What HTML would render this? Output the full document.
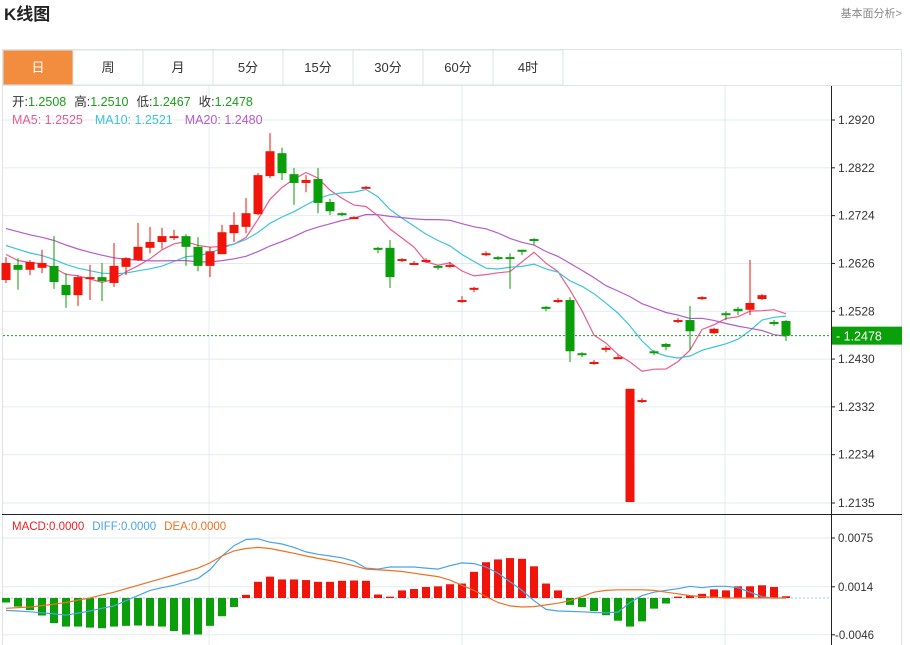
<!DOCTYPE html>
<html><head><meta charset="utf-8">
<style>
body{margin:0;background:#fff;font-family:"Liberation Sans","Noto Sans CJK SC",sans-serif;}
#wrap{position:relative;width:910px;height:645px;overflow:hidden;}
svg text{font-family:"Liberation Sans","Noto Sans CJK SC",sans-serif;}
</style></head>
<body>
<div id="wrap">
<svg id="chart" width="910" height="645" viewBox="0 0 910 645">
  <text x="4" y="20" font-size="17" font-weight="bold" fill="#222">K线图</text>
  <text x="902" y="17" font-size="11" fill="#888" text-anchor="end">基本面分析&gt;</text>
  <rect x="2.5" y="49.5" width="899" height="600" fill="#fff" stroke="#dde3e8"/>
  <g id="tabs"></g>
  <g id="grid"></g>
  <g id="mas"></g>
  <g id="candles"></g>
  <g id="macd"></g>
  <g id="axes"></g>
  <text x="12" y="106" font-size="12.5"><tspan fill="#333">开:</tspan><tspan fill="#17a017">1.2508</tspan><tspan fill="#333" dx="8">高:</tspan><tspan fill="#17a017">1.2510</tspan><tspan fill="#333" dx="8">低:</tspan><tspan fill="#17a017">1.2467</tspan><tspan fill="#333" dx="8">收:</tspan><tspan fill="#17a017">1.2478</tspan></text>
  <text x="12" y="124" font-size="12.5"><tspan fill="#ec5b8d">MA5: 1.2525</tspan><tspan fill="#3cc4da" dx="12">MA10: 1.2521</tspan><tspan fill="#b35ccc" dx="12">MA20: 1.2480</tspan></text>
  <text x="12" y="530" font-size="11.5"><tspan fill="#ee2020">MACD:0.0000</tspan><tspan fill="#4aa3e8" dx="8">DIFF:0.0000</tspan><tspan fill="#f07020" dx="8">DEA:0.0000</tspan></text>
</svg>
</div>
<script>
const tabLabels=["日","周","月","5分","15分","30分","60分","4时"];
const priceTicks=[1.2920,1.2822,1.2724,1.2626,1.2528,1.2430,1.2332,1.2234,1.2135];
const macdTicks=[0.0075,0.0014,-0.0046];
const lastPrice=1.2478;
const priorCloses=[1.2740,1.2755,1.2730,1.2720,1.2745,1.2760,1.2735,1.2710,1.2725,1.2700,1.2690,1.2705,1.2680,1.2670,1.2660,1.2675,1.2650,1.2640,1.2630];
const opens=[1.2592,1.2623,1.2613,1.2617,1.2621,1.2582,1.2561,1.2596,1.2598,1.2586,1.2619,1.2633,1.2658,1.2670,1.2680,1.2682,1.2660,1.2621,1.2645,1.2688,1.2701,1.2727,1.2805,1.2852,1.2809,1.2791,1.2799,1.2752,1.2729,1.2719,1.2781,1.2658,1.2658,1.2633,1.2625,1.2631,1.2621,1.2621,1.2547,1.2574,1.2645,1.2639,1.2639,1.2654,1.2676,1.2537,1.2549,1.2551,1.2442,1.2422,1.2451,1.2432,1.2137,1.2344,1.2446,1.2461,1.2508,1.2510,1.2553,1.2483,1.2524,1.2533,1.2531,1.2553,1.2506,1.2508];
const highs=[1.2639,1.2637,1.2633,1.2654,1.2682,1.2606,1.2602,1.2623,1.2627,1.2668,1.2639,1.2709,1.2701,1.2699,1.2695,1.2686,1.2680,1.2660,1.2705,1.2731,1.2760,1.2811,1.2893,1.2863,1.2822,1.2807,1.2822,1.2758,1.2731,1.2723,1.2785,1.2660,1.2674,1.2637,1.2631,1.2637,1.2623,1.2629,1.2559,1.2578,1.2651,1.2641,1.2647,1.2654,1.2678,1.2539,1.2555,1.2557,1.2444,1.2428,1.2457,1.2438,1.2369,1.2350,1.2448,1.2463,1.2514,1.2539,1.2559,1.2494,1.2528,1.2537,1.2633,1.2563,1.2510,1.2510];
const lows=[1.2586,1.2572,1.2602,1.2606,1.2574,1.2535,1.2539,1.2551,1.2549,1.2578,1.2602,1.2631,1.2647,1.2656,1.2674,1.2621,1.2610,1.2598,1.2645,1.2670,1.2688,1.2725,1.2801,1.2797,1.2746,1.2772,1.2729,1.2725,1.2723,1.2717,1.2779,1.2647,1.2576,1.2629,1.2623,1.2627,1.2613,1.2617,1.2545,1.2567,1.2641,1.2633,1.2574,1.2643,1.2664,1.2528,1.2545,1.2424,1.2434,1.2418,1.2444,1.2430,1.2137,1.2340,1.2438,1.2448,1.2504,1.2448,1.2551,1.2481,1.2510,1.2520,1.2520,1.2551,1.2498,1.2467];
const closes=[1.2627,1.2613,1.2629,1.2627,1.2588,1.2561,1.2598,1.2598,1.2590,1.2621,1.2637,1.2660,1.2670,1.2682,1.2682,1.2660,1.2621,1.2651,1.2690,1.2705,1.2729,1.2807,1.2856,1.2811,1.2791,1.2797,1.2750,1.2733,1.2727,1.2721,1.2783,1.2654,1.2598,1.2635,1.2627,1.2633,1.2619,1.2623,1.2551,1.2576,1.2647,1.2637,1.2635,1.2651,1.2674,1.2535,1.2551,1.2446,1.2440,1.2424,1.2453,1.2434,1.2369,1.2346,1.2444,1.2455,1.2510,1.2487,1.2557,1.2492,1.2520,1.2528,1.2545,1.2561,1.2502,1.2478];
const macdHist=[-0.00056,-0.00108,-0.00151,-0.00219,-0.00314,-0.00357,-0.00357,-0.0037,-0.00378,-0.00357,-0.00348,-0.00344,-0.00348,-0.00357,-0.00413,-0.00456,-0.00456,-0.00348,-0.00228,-0.00112,0.00039,0.00202,0.00267,0.00232,0.00232,0.00224,0.00202,0.00202,0.00215,0.00219,0.00215,0.00043,0.00017,0.00095,0.00112,0.00138,0.00146,0.00172,0.00181,0.00327,0.00447,0.00482,0.00499,0.0049,0.00396,0.00181,0.00095,-0.00086,-0.00112,-0.00163,-0.00215,-0.00284,-0.00357,-0.00292,-0.00133,-0.00069,0.00017,0.0003,0.00052,0.00108,0.00095,0.00146,0.00146,0.00159,0.00138,0.00022];
const diffVals=[-0.00155,-0.00163,-0.00172,-0.00185,-0.00198,-0.00215,-0.00189,-0.00163,-0.00129,-0.00099,-0.00034,0.0003,0.00095,0.00129,0.00159,0.00202,0.00245,0.00353,0.00525,0.00654,0.00731,0.0074,0.00697,0.00675,0.00632,0.00576,0.00546,0.00525,0.00503,0.0046,0.00374,0.00361,0.00387,0.00387,0.00387,0.00374,0.00361,0.00404,0.00439,0.0043,0.00387,0.0031,0.00202,0.00095,-0.00034,-0.00142,-0.00163,-0.00168,-0.00172,-0.00181,-0.00185,-0.00176,-0.00056,0.0003,0.00073,0.00095,0.00116,0.00146,0.00129,0.00146,0.00146,0.00129,0.00073,0.00017,0.0,0.0];
const deaVals=[-0.00129,-0.0012,-0.00112,-0.00095,-0.00077,-0.00056,-0.00026,0.0,0.00039,0.00073,0.00116,0.00159,0.00202,0.00245,0.00288,0.00331,0.00374,0.00439,0.00525,0.00589,0.00619,0.00632,0.00619,0.00589,0.00559,0.00525,0.00495,0.00469,0.00439,0.00404,0.00361,0.00353,0.00344,0.00331,0.0031,0.00288,0.00267,0.00224,0.00159,0.00095,0.00017,-0.00056,-0.00099,-0.00112,-0.00108,-0.00086,-0.00065,-0.00034,0.00017,0.00073,0.00095,0.00103,0.00103,0.00103,0.00095,0.00073,0.00052,0.0003,0.00017,0.00009,0.0,0.0,0.0,0.0,0.0,0.0];

const NS="http://www.w3.org/2000/svg";
function mk(tag,attrs,parent){const e=document.createElementNS(NS,tag);for(const k in attrs)e.setAttribute(k,attrs[k]);parent.appendChild(e);return e;}
const G=id=>document.getElementById(id);
const PTOP=120,PBOT=503,PMAX=1.2920,PMIN=1.2135;
const yP=p=>PTOP+(PMAX-p)/(PMAX-PMIN)*(PBOT-PTOP);
const xC=i=>6+12*i;
const yM=v=>598-v*8000;
const RED="#f0140a",GREEN="#0a9e0a";

tabLabels.forEach((t,i)=>{
  const g=mk('g',{},G('tabs'));
  
  
  mk('rect',{x:3+70*i,y:50,width:70,height:35,fill:i===0?"#f28c3e":"#fff",stroke:"#dde3e8"},g);
  const tx=mk('text',{x:38+70*i,y:72,'font-size':13,fill:i===0?"#fff":"#333",'text-anchor':'middle'},g);
  tx.textContent=t;
});
mk('line',{x1:2,y1:85.5,x2:902,y2:85.5,stroke:"#dde3e8"},G('tabs'));

priceTicks.forEach(p=>{const l=mk('line',{x1:3,x2:831,y1:yP(p),y2:yP(p),stroke:"#e2ebf2"},G('grid'));
  });
macdTicks.forEach(v=>{const l=mk('line',{x1:3,x2:831,y1:yM(v),y2:yM(v),stroke:"#e2ebf2"},G('grid'));
  });
[209,462,725].forEach(x=>{mk('line',{x1:x,x2:x,y1:86,y2:645,stroke:"#e2ebf2"},G('grid'));});

const all=priorCloses.concat(closes),off=priorCloses.length;
function ma(n){return closes.map((c,i)=>{const j=i+off;const s=all.slice(Math.max(0,j-n+1),j+1);return s.reduce((a,b)=>a+b,0)/s.length;});}
[[5,"#ec5b8d"],[10,"#3cc4da"],[20,"#b35ccc"]].forEach(([n,col])=>{
  const v=ma(n);
  const pl=mk('polyline',{points:v.map((p,i)=>xC(i)+','+yP(p).toFixed(1)).join(' '),fill:'none',stroke:col,'stroke-width':1.2},G('mas'));
  
});

closes.forEach((c,i)=>{
  const o=opens[i],up=c>=o,col=up?RED:GREEN,x=xC(i);
  const g=mk('g',{},G('candles'));
  
  
  mk('line',{x1:x,x2:x,y1:yP(highs[i]),y2:yP(lows[i]),stroke:col,'stroke-width':1},g);
  const t=yP(Math.max(o,c)),b=yP(Math.min(o,c));
  mk('rect',{x:x-4.5,y:t,width:9,height:Math.max(2,b-t),fill:col},g);
});

mk('line',{x1:3,x2:831,y1:yP(lastPrice),y2:yP(lastPrice),stroke:"#1a9a1a",'stroke-dasharray':'2,2'},G('axes'));

// MACD
mk('line',{x1:3,x2:831,y1:yM(0),y2:yM(0),stroke:"#9cc8e8",'stroke-dasharray':'2,2'},G('macd'));
macdHist.forEach((h,i)=>{
  const y0=yM(0),y1=yM(h);
  const r=mk('rect',{x:xC(i)-4,y:Math.min(y0,y1),width:8,height:Math.max(1,Math.abs(y1-y0)),fill:h>=0?RED:GREEN},G('macd'));
  
});
const dl=mk('polyline',{points:diffVals.map((v,i)=>xC(i)+','+yM(v).toFixed(1)).join(' '),fill:'none',stroke:'#4aa3e8','stroke-width':1.2},G('macd'));

const el=mk('polyline',{points:deaVals.map((v,i)=>xC(i)+','+yM(v).toFixed(1)).join(' '),fill:'none',stroke:'#f07020','stroke-width':1.2},G('macd'));


const A=G('axes');
mk('line',{x1:831.5,x2:831.5,y1:86,y2:645,stroke:"#222"},A);
mk('line',{x1:2,x2:902,y1:514.5,y2:514.5,stroke:"#222"},A);
priceTicks.forEach(p=>{
  mk('line',{x1:831,x2:835,y1:yP(p),y2:yP(p),stroke:"#222"},A);
  const t=mk('text',{x:838,y:yP(p)+4,'font-size':12,fill:"#333"},A);
  
  t.textContent=p.toFixed(4);
});
macdTicks.forEach(v=>{
  mk('line',{x1:831,x2:835,y1:yM(v),y2:yM(v),stroke:"#222"},A);
  const t=mk('text',{x:v<0?835:838,y:yM(v)+4,'font-size':11.5,fill:"#333"},A);
  
  t.textContent=v.toFixed(4);
});
const lb=mk('rect',{x:832,y:yP(lastPrice)-9,width:70,height:18,fill:"#0aa00a"},A);

const lt=mk('text',{x:836,y:yP(lastPrice)+5,'font-size':12.5,fill:"#fff"},A);
lt.textContent="- "+lastPrice.toFixed(4);
</script>
</body></html>
